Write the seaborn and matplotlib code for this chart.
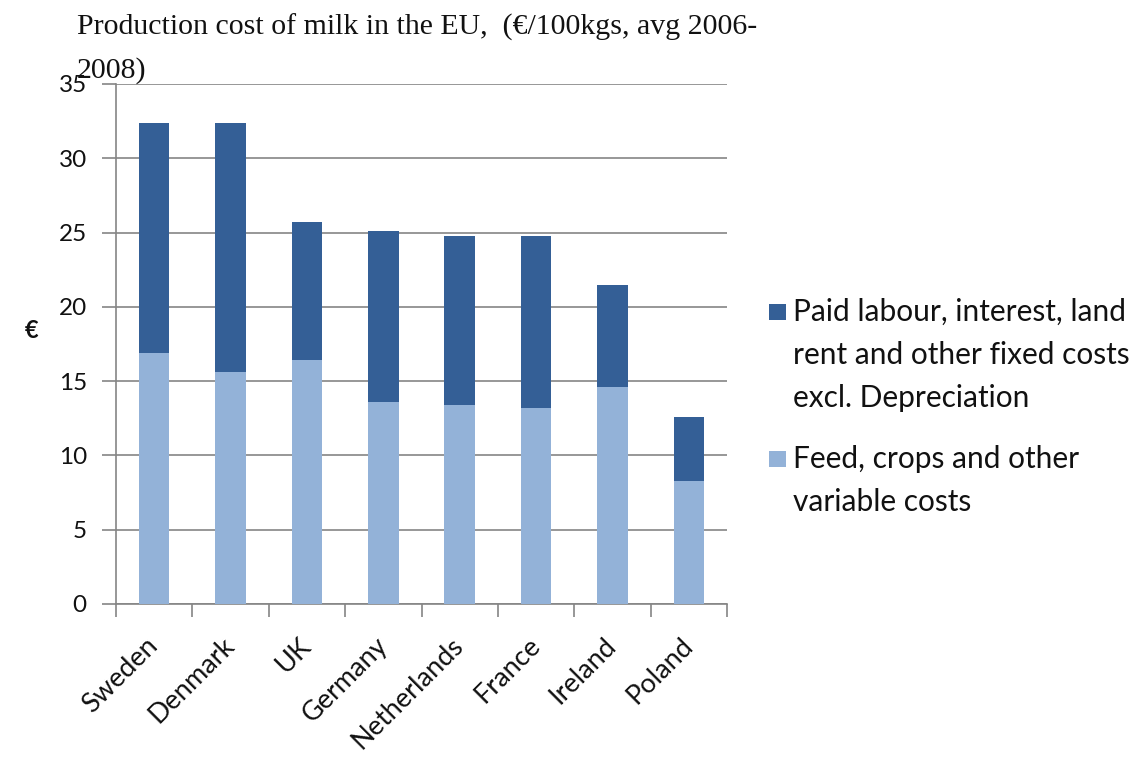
import matplotlib
matplotlib.use("Agg")
import matplotlib.pyplot as plt
import seaborn as sns
import pandas as pd
from matplotlib.patches import Rectangle
from matplotlib.ticker import FixedLocator

# ---- data ----
countries = ["Sweden", "Denmark", "UK", "Germany", "Netherlands", "France", "Ireland", "Poland"]
variable_costs = [16.9, 15.6, 16.4, 13.6, 13.4, 13.2, 14.6, 8.3]
fixed_costs = [15.5, 16.8, 9.3, 11.5, 11.4, 11.6, 6.9, 4.3]
series_labels = ["Paid labour, interest, land\nrent and other fixed costs\nexcl. Depreciation",
                 "Feed, crops and other\nvariable costs"]
y_ticks = [0, 5, 10, 15, 20, 25, 30, 35]
title_lines = ["Production cost of milk in the EU,  (\u20ac/100kgs, avg 2006-", "2008)"]
y_label = "\u20ac"

DARK = "#345F96"
LIGHT = "#93B2D8"
GRID = "#858585"

sns.set_theme(style="white")
plt.rcParams['font.family'] = ['Lato', 'DejaVu Sans']
plt.rcParams['text.color'] = '#111111'
plt.rcParams['xtick.color'] = '#111111'
plt.rcParams['ytick.color'] = '#111111'

df = pd.DataFrame({"country": countries, "variable": variable_costs, "fixed": fixed_costs})
df["total"] = df["variable"] + df["fixed"]

W, H = 1140, 774
fig = plt.figure(figsize=(W / 100, H / 100), dpi=100)
ax = fig.add_axes([116 / W, 170 / H, 611 / W, 520 / H])

sns.barplot(data=df, x="country", y="total", color=DARK, width=0.4, saturation=1,
            errorbar=None, ax=ax, zorder=3, linewidth=0)
sns.barplot(data=df, x="country", y="variable", color=LIGHT, width=0.4, saturation=1,
            errorbar=None, ax=ax, zorder=3, linewidth=0)

ax.set_xlim(-0.5, len(countries) - 0.5)
ax.set_ylim(0, 35)
ax.set_yticks(y_ticks)
ax.yaxis.grid(True, color=GRID, linewidth=1.2, zorder=0)
ax.set_axisbelow(True)
for s in ["top", "right"]:
    ax.spines[s].set_visible(False)
for s in ["left", "bottom"]:
    ax.spines[s].set_color(GRID)
    ax.spines[s].set_linewidth(1.2)

ax.set_xlabel("")
ax.set_ylabel("")
ax.xaxis.set_minor_locator(FixedLocator([i - 0.5 for i in range(len(countries) + 1)]))
ax.tick_params(axis="x", which="major", length=0, pad=27, labelsize=19.5)
ax.tick_params(axis="x", which="minor", bottom=True, length=9, width=1.2, color=GRID, direction="out")
ax.tick_params(axis="y", which="major", left=True, length=10, width=1.2, color=GRID,
               direction="out", pad=11, labelsize=17.5)
ax.set_xticks(range(len(countries)))
ax.set_xticklabels(countries, rotation=45, ha="right", va="center", rotation_mode="anchor")

fig.text(32 / W, 1 - 330 / H, y_label, fontsize=17, fontweight="bold", ha="center", va="center")

fig.text(77 / W, 1 - 35 / H, title_lines[0], family=["Liberation Serif", "DejaVu Serif"],
         fontsize=21.5, va="baseline", ha="left")
fig.text(77 / W, 1 - 78 / H, title_lines[1], family=["Liberation Serif", "DejaVu Serif"],
         fontsize=21.5, va="baseline", ha="left")

# legend
entry_y = [312, 459]
line_gap = 43
for lab, col, y0 in zip(series_labels, [DARK, LIGHT], entry_y):
    fig.add_artist(Rectangle((769 / W, 1 - (y0 + 8) / H), 17 / W, 16 / H,
                             transform=fig.transFigure, facecolor=col, edgecolor="none"))
    for k, line in enumerate(lab.split("\n")):
        fig.text(793 / W, 1 - (y0 + k * line_gap) / H, line, fontsize=21.5,
                 ha="left", va="center")

fig.savefig("out.png", dpi=100)
